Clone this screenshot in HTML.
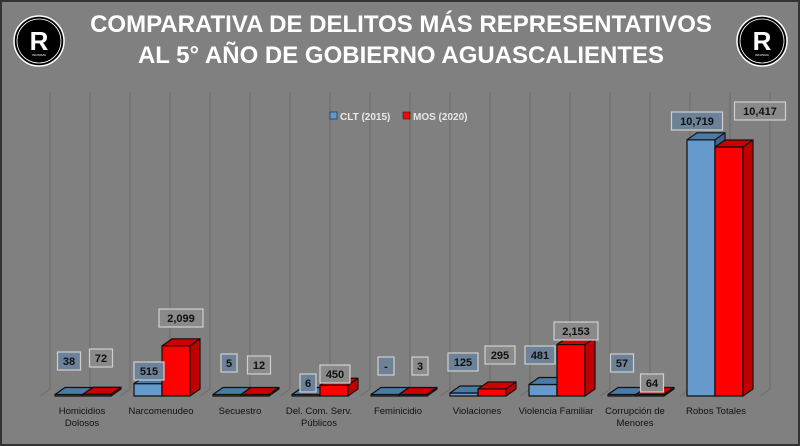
<!DOCTYPE html>
<html><head><meta charset="utf-8"><style>
body{margin:0;width:800px;height:446px;overflow:hidden;background:#808080}
svg{display:block}
text{font-family:"Liberation Sans",sans-serif}
</style></head><body>
<svg id="s" width="800" height="446" viewBox="0 0 800 446" xmlns="http://www.w3.org/2000/svg">
<rect x="1" y="1" width="798" height="444" fill="#808080" stroke="#333" stroke-width="2"/>
<g id="grid" stroke="#6e6e6e" stroke-width="1.2"></g>
<g id="bars" stroke="#111" stroke-width="1.2" stroke-linejoin="round"></g>
<g fill="#fff" font-weight="bold" font-size="24" text-anchor="middle">
<text x="401" y="32">COMPARATIVA DE DELITOS MÁS REPRESENTATIVOS</text>
<text x="401" y="63">AL 5° AÑO DE GOBIERNO AGUASCALIENTES</text>
</g>
<g>
<circle cx="39" cy="41" r="25" fill="#000" stroke="#fff" stroke-width="1.5"/>
<circle cx="39" cy="41" r="22" fill="none" stroke="#fff" stroke-width="0.8"/>
<text x="39" y="50" fill="#fff" font-size="26" font-weight="bold" text-anchor="middle">R</text>
<text x="39" y="56" fill="#fff" font-size="3" text-anchor="middle">INFORMA</text>
</g>
<g transform="translate(723,0)">
<circle cx="39" cy="41" r="25" fill="#000" stroke="#fff" stroke-width="1.5"/>
<circle cx="39" cy="41" r="22" fill="none" stroke="#fff" stroke-width="0.8"/>
<text x="39" y="50" fill="#fff" font-size="26" font-weight="bold" text-anchor="middle">R</text>
<text x="39" y="56" fill="#fff" font-size="3" text-anchor="middle">INFORMA</text>
</g>
<rect x="330" y="112" width="7" height="7" fill="#5b9bd5" stroke="#222" stroke-width="0.6"/>
<text x="340" y="120" font-size="10" fill="#e8e8e8" font-weight="bold">CLT (2015)</text>
<rect x="403" y="112" width="7" height="7" fill="#f00" stroke="#222" stroke-width="0.6"/>
<text x="413" y="120" font-size="10" fill="#e8e8e8" font-weight="bold">MOS (2020)</text>
<g id="vl" font-size="11" font-weight="bold" fill="#111" text-anchor="middle"></g>
<g font-size="9.5" fill="#111" text-anchor="middle">
<text x="82" y="414">Homicidios</text><text x="82" y="426">Dolosos</text>
<text x="161" y="414">Narcomenudeo</text>
<text x="240" y="414">Secuestro</text>
<text x="319" y="414">Del. Com. Serv.</text><text x="319" y="426">Públicos</text>
<text x="398" y="414">Feminicidio</text>
<text x="477" y="414">Violaciones</text>
<text x="556" y="414">Violencia Familiar</text>
<text x="635" y="414">Corrupción de</text><text x="635" y="426">Menores</text>
<text x="716" y="414">Robos Totales</text>
</g>
</svg>
<script>
var NS="http://www.w3.org/2000/svg";
function el(p,t,a){var e=document.createElementNS(NS,t);for(var k in a)e.setAttribute(k,a[k]);p.appendChild(e);return e;}
var g=document.getElementById('grid');
for(var x=50;x<=770;x+=40){el(g,'line',{x1:x,y1:92,x2:x,y2:389});el(g,'line',{x1:x,y1:389,x2:x-10,y2:396});}
var b=document.getElementById('bars');
var data=[[38,72],[515,2099],[5,12],[6,450],[0,3],[125,295],[481,2153],[57,64],[10719,10417]];
var sc=0.0239,D=10,E=7,B=396,W=28;
function bar(x0,v,c){var h=Math.max(v*sc,1.5);
 el(b,'rect',{x:x0,y:B-h,width:W,height:h,fill:c[0]});
 el(b,'polygon',{points:[x0,B-h,x0+D,B-h-E,x0+W+D,B-h-E,x0+W,B-h].join(' '),fill:c[1]});
 el(b,'polygon',{points:[x0+W,B-h,x0+W+D,B-h-E,x0+W+D,B-E,x0+W,B].join(' '),fill:c[2]});}
var blue=['#6699cc','#4a7aa6','#3d6690'],red=['#ff0000','#cc0000','#c00000'];
data.forEach(function(d,i){var x0=55+79*i;bar(x0,d[0],blue);bar(x0+W,d[1],red);});
var lab=[["38",69,361,1],["72",101,358,0],["515",149,371,1],["2,099",181,318,0],["5",229,363,1],["12",259,365,0],["6",308,383,1],["450",335,374,0],["-",386,366,1],["3",420,366,0],["125",463,362,1],["295",500,355,0],["481",540,355,1],["2,153",576,331,0],["57",622,363,1],["64",652,383,0],["10,719",697,121,1],["10,417",760,111,0]];
var vl=document.getElementById('vl');
lab.forEach(function(l){var w=l[0].length*7+9;
 el(vl,'rect',{x:l[1]-w/2,y:l[2]-9,width:w,height:18,fill:l[3]?'#6d8299':'#8a8a8a',stroke:'#cfcfcf','stroke-width':1.2});
 var t=el(vl,'text',{x:l[1],y:l[2]+4});t.textContent=l[0];});
</script>
</body></html>
